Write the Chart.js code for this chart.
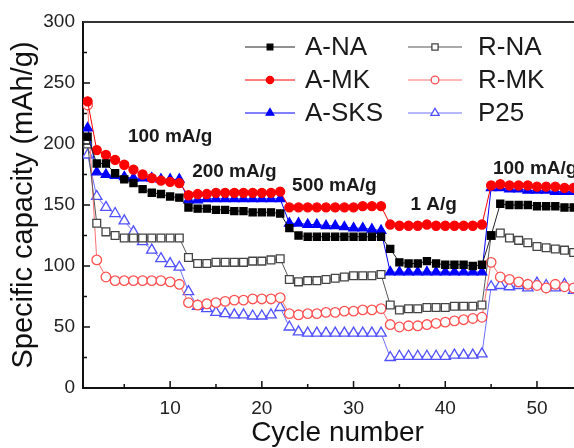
<!DOCTYPE html>
<html>
<head>
<meta charset="utf-8">
<script src="https://cdn.jsdelivr.net/npm/chart.js@4.4.0/dist/chart.umd.min.js"></script>
<style>
html, body { margin: 0; padding: 0; background: #fff; overflow: hidden; width: 574px; height: 448px; }
#wrap { width: 600px; height: 448px; }
</style>
</head>
<body>
<div id="wrap"><canvas id="rateChart" width="600" height="448"></canvas></div>
<script>
// cycle numbers
var cycles = [1,2,3,4,5,6,7,8,9,10,11,12,13,14,15,16,17,18,19,20,21,22,23,24,25,26,27,28,
  29,30,31,32,33,34,35,36,37,38,39,40,41,42,43,44,45,46,47,48,49,50,51,52,53,54,55];

// specific capacity (mAh/g) per sample
var aNA  = [206,184,184,176,171,168,163,160,159,157,156, 148,147,147,146,146,145,145,144,144,144,143,
  131,125,124,124,124,124,124,124,124,124,124, 114,103,102,102,104,102,101,101,101,100,101,
  125,151,150,150,150,149,149,149,148,148,148];
var aMK  = [235,195,191,187,183,179,175,172,170,169,168, 158,159,159,160,160,160,160,160,160,160,161,
  148,148,148,148,148,148,148,148,149,149,149, 134,133,133,133,134,133,133,133,133,133,134,
  166,167,166,166,166,165,165,165,164,164,164];
var aSKS = [213,177,175,174,173,172,172,172,171,171,171, 154,154,155,155,155,155,155,155,155,155,155,
  135,135,134,134,133,133,132,131,131,130,129, 95,95,95,95,95,95,95,95,95,95,95,
  164,164,163,163,162,162,162,161,161,161,161];
var rNA  = [200,135,128,125,123,123,123,123,123,123,123, 107,102,102,103,103,103,103,104,104,105,106,
  89,87,88,88,89,90,91,92,92,92,93, 68,64,65,65,66,66,66,67,67,67,68,
  125,127,123,121,119,116,115,114,113,111,110];
var rMK  = [232,105,91,88,88,88,88,88,88,87,85, 70,68,69,70,71,72,72,73,73,73,74,
  61,60,61,61,62,62,63,63,64,64,65, 52,50,51,51,52,53,54,55,56,57,58,
  103,91,89,87,85,84,82,85,83,82,83];
var p25  = [191,157,148,143,137,128,120,113,106,102,99, 79,67,65,62,61,60,60,59,59,60,66,
  50,46,45,45,45,45,45,45,45,45,45, 25,26,26,26,26,26,26,27,27,27,28,
  83,84,83,84,82,86,84,82,85,80,80];

var seriesNames = ['A-NA','A-MK','A-SKS','R-NA','R-MK','P25'];
var rateLabels = ['100 mA/g','200 mA/g','500 mA/g','1 A/g','100 mA/g'];
var yTickValues = [0,50,100,150,200,250,300];
var xTickValues = [10,20,30,40,50];

var FONT = "'Liberation Sans', Arial, sans-serif";

function pts(vals) {
  return cycles.map(function(c, i) { return {x: c, y: vals[i]}; });
}

function makeSet(label, vals, line, stroke, fill, shape, r) {
  return {
    label: label,
    data: pts(vals),
    borderColor: line,
    borderWidth: 1,
    pointStyle: shape,
    pointRadius: r,
    pointBackgroundColor: fill,
    pointBorderColor: stroke,
    pointBorderWidth: 1.3,
    tension: 0
  };
}

// legend drawn inside the plot, two columns
var insideLegend = {
  id: 'insideLegend',
  afterDraw: function(chart, args, opts) {
    var ctx = chart.ctx;
    var sets = chart.data.datasets;
    ctx.save();
    ctx.font = '26px ' + FONT;
    ctx.textBaseline = 'middle';
    sets.forEach(function(ds, i) {
      var col = i < 3 ? 0 : 1;
      var row = i % 3;
      var lx = opts.lines[col][0], rx = opts.lines[col][1], y = opts.rows[row];
      ctx.strokeStyle = ds.borderColor;
      ctx.lineWidth = 1;
      ctx.beginPath();
      ctx.moveTo(lx, y); ctx.lineTo(rx, y);
      ctx.stroke();
      ctx.fillStyle = ds.pointBackgroundColor;
      ctx.strokeStyle = ds.pointBorderColor;
      ctx.lineWidth = 1.3;
      Chart.helpers.drawPoint(ctx, {pointStyle: ds.pointStyle, radius: ds.pointRadius * 0.8,
        rotation: 0, borderWidth: 1.3}, (lx + rx) / 2, y);
      ctx.fillStyle = '#1a1a1a';
      ctx.fillText(ds.label, opts.text[col], y + 1);
    });
    ctx.restore();
  }
};

// current density labels at data positions
var rateText = {
  id: 'rateText',
  afterDraw: function(chart, args, opts) {
    var ctx = chart.ctx, sx = chart.scales.x, sy = chart.scales.y;
    ctx.save();
    ctx.font = 'bold 19px ' + FONT;
    ctx.fillStyle = '#1a1a1a';
    ctx.textBaseline = 'middle';
    ctx.textAlign = 'left';
    rateLabels.forEach(function(t, i) {
      var p = opts.at[i];
      ctx.fillText(t, sx.getPixelForValue(p[0]), sy.getPixelForValue(p[1]));
    });
    ctx.restore();
  }
};

// inward ticks and top frame
var frameTicks = {
  id: 'frameTicks',
  afterDatasetsDraw: function(chart) {
    var ctx = chart.ctx, a = chart.chartArea, sx = chart.scales.x, sy = chart.scales.y;
    ctx.save();
    ctx.strokeStyle = '#111';
    ctx.lineWidth = 1.5;
    ctx.beginPath();
    for (var v = 25; v < 300; v += 25) {
      var py = sy.getPixelForValue(v);
      ctx.moveTo(a.left, py); ctx.lineTo(a.left + (v % 50 === 0 ? 7 : 4), py);
    }
    for (var c = 5; c <= 55; c += 5) {
      var px = sx.getPixelForValue(c);
      ctx.moveTo(px, a.bottom); ctx.lineTo(px, a.bottom - (c % 10 === 0 ? 7 : 4));
    }
    ctx.stroke();
    ctx.strokeStyle = '#333';
    ctx.lineWidth = 2;
    ctx.beginPath();
    ctx.moveTo(a.left, a.top); ctx.lineTo(a.right, a.top);
    ctx.stroke();
    ctx.restore();
  }
};

var ctx = document.getElementById('rateChart').getContext('2d');
var rateChart = new Chart(ctx, {
  type: 'line',
  data: {
    datasets: [
      makeSet(seriesNames[0], aNA,  '#222222', '#000000', '#000000', 'rect', 5),
      makeSet(seriesNames[1], aMK,  '#ff0000', '#ff0000', '#ff0000', 'circle', 4.5),
      makeSet(seriesNames[2], aSKS, '#0000ff', '#0000ff', '#0000ff', 'triangle', 5.5),
      makeSet(seriesNames[3], rNA,  '#555555', '#444444', '#ffffff', 'rect', 5.5),
      makeSet(seriesNames[4], rMK,  '#ff7070', '#ff5050', '#ffffff', 'circle', 4.8),
      makeSet(seriesNames[5], p25,  '#7070ff', '#5050ff', '#ffffff', 'triangle', 6)
    ]
  },
  options: {
    responsive: false,
    animation: false,
    layout: { padding: { top: 22, right: 8, left: 0, bottom: 0 } },
    plugins: {
      legend: { display: false },
      tooltip: { enabled: false },
      insideLegend: { lines: [[245, 295], [408, 462]], text: [305, 478], rows: [47, 80, 113] },
      rateText: { at: [[5.4, 206], [12.4, 177], [23.3, 166], [36.2, 150], [45.2, 180]] }
    },
    scales: {
      x: {
        type: 'linear',
        min: 0.5,
        max: 56,
        afterBuildTicks: function(s) { s.ticks = xTickValues.map(function(v) { return {value: v}; }); },
        afterFit: function(s) { s.height = 60; },
        grid: { display: false, drawTicks: false },
        border: { color: '#111', width: 2 },
        ticks: { padding: 9, color: '#222', font: { family: FONT, size: 19 } },
        title: { display: true, text: 'Cycle number', color: '#111',
                 font: { family: FONT, size: 28, lineHeight: 1.05 }, padding: 0 }
      },
      y: {
        min: 0,
        max: 300,
        afterBuildTicks: function(s) { s.ticks = yTickValues.map(function(v) { return {value: v}; }); },
        afterFit: function(s) { s.width = 83; },
        grid: { display: false, drawTicks: false },
        border: { color: '#111', width: 2 },
        ticks: { padding: 8, color: '#222', font: { family: FONT, size: 19 } },
        title: { display: true, text: 'Specific capacity (mAh/g)', color: '#111',
                 font: { family: FONT, size: 29 }, padding: { top: 7, bottom: 0 } }
      }
    }
  },
  plugins: [insideLegend, rateText, frameTicks]
});
</script>
</body>
</html>
